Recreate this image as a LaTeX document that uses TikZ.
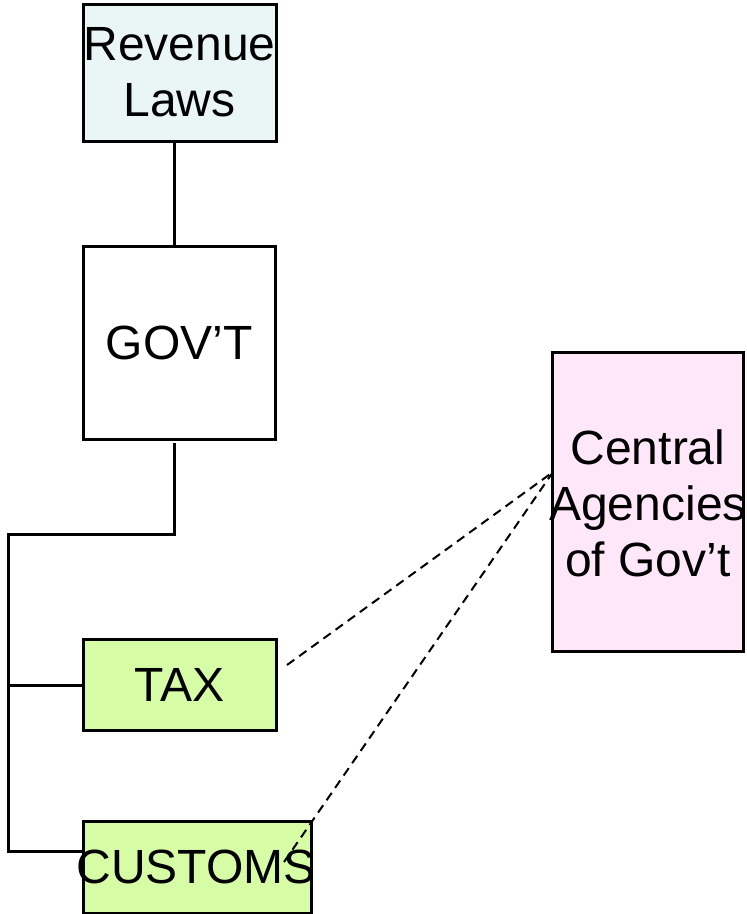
\documentclass[tikz,border=0pt]{standalone}
\usepackage{fontspec}
\setmainfont{Liberation Sans}
\begin{document}
\begin{tikzpicture}[x=1pt,y=-1pt,
  box/.style={draw=black,line width=3pt,rectangle,inner sep=0pt,align=center,
    font=\fontsize{48}{56}\selectfont},
  lbl/.style={inner sep=0pt,align=center,font=\fontsize{48}{56}\selectfont},
  conn/.style={line width=3pt},
  dconn/.style={line width=2pt,dash pattern=on 9pt off 6pt}]
\useasboundingbox[fill=white] (0,0) rectangle (747,914);
\definecolor{revfill}{HTML}{EAF5F6}
\definecolor{greenfill}{HTML}{D6FCA6}
\definecolor{pinkfill}{HTML}{FFE7FA}
\node[box,fill=revfill,minimum width=193pt,minimum height=137pt] (rev) at (179.5,72.5) {Revenue\\Laws};
\node[box,fill=white,minimum width=192pt,minimum height=193pt] (gov) at (179,342.5) {GOV’T};
\node[box,fill=pinkfill,minimum width=191pt,minimum height=299pt] (cen) at (647.5,501.5) {};
\node[lbl] (centxt) at (648,503) {Central\\Agencies\\of Gov’t};
\node[box,fill=greenfill,minimum width=193pt,minimum height=91pt] (tax) at (179.5,684.5) {TAX};
\node[box,fill=greenfill,minimum width=228pt,minimum height=92pt] (cus) at (197,867) {};
\node[lbl] (custxt) at (196,867) {CUSTOMS};
\coordinate (g1) at (174,443);
\coordinate (j1) at (174,534);
\coordinate (j2) at (8,534);
\coordinate (j3) at (8,685);
\coordinate (j4) at (8,851);
\draw[conn] (rev.south -| g1) -- (gov.north -| g1);
\draw[conn] (g1) -- (j1) -- (j2) -- (j4) -- (j4 -| cus.west);
\draw[conn] (j3) -- (j3 -| tax.west);
\coordinate (apex) at (553,472);
\coordinate (taxend) at (287,665);
\coordinate (cusend) at (284,862);
\draw[dconn] (taxend) -- (apex);
\draw[dconn] (cusend) -- (apex);
\end{tikzpicture}
\end{document}
